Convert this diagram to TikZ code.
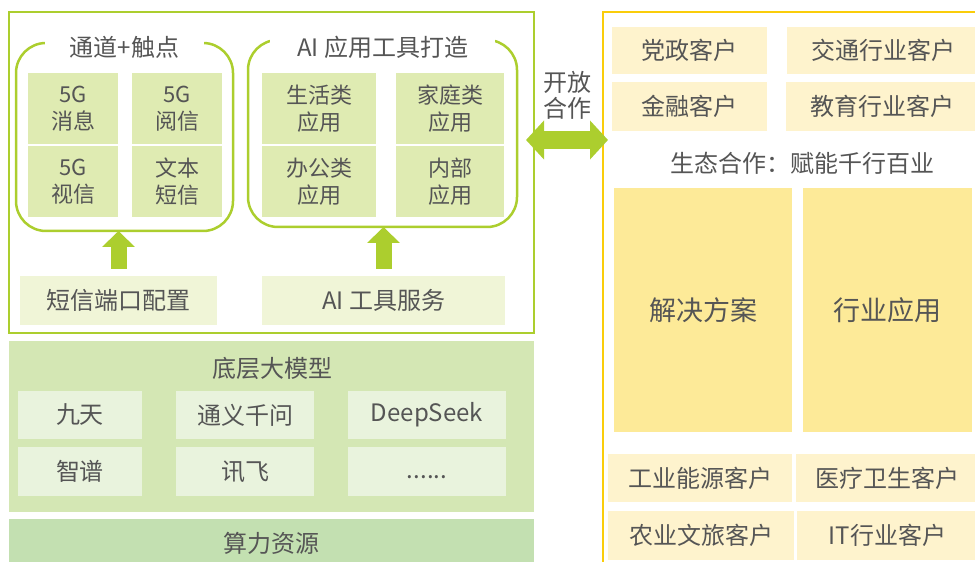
\documentclass[tikz,border=0pt]{standalone}
\usepackage{fontspec}
\setmainfont{Noto Sans CJK SC}
\usetikzlibrary{arrows.meta, calc}
\definecolor{lime}{RGB}{172,206,46}
\definecolor{leaf}{RGB}{223,235,178}
\definecolor{mist}{RGB}{240,245,215}
\definecolor{moss}{RGB}{212,231,180}
\definecolor{dew}{RGB}{233,243,221}
\definecolor{sage}{RGB}{195,224,177}
\definecolor{gold}{RGB}{250,205,10}
\definecolor{cream}{RGB}{254,243,205}
\definecolor{butter}{RGB}{253,234,152}
\definecolor{ink}{RGB}{85,85,85}

\begin{document}
\begin{tikzpicture}[
    x=1pt, y=1pt,
    every node/.style={inner sep=0pt, outer sep=0pt, text=ink, font=\fontsize{24}{28}\selectfont},
    sz/.style 2 args={minimum width=#1pt, minimum height=#2pt},
    frame/.style={draw=lime, line width=2pt},
    bracket/.style={draw=lime, line width=2.5pt, rounded corners=30pt},
    brtitle/.style={fill=white, minimum height=24pt},
    cell/.style={fill=leaf, align=center, font=\fontsize{22}{27}\selectfont},
    service/.style={fill=mist},
    model/.style={fill=dew},
    client/.style={fill=cream},
    bigcell/.style={fill=butter, font=\fontsize{27}{30}\selectfont},
    uparrow/.style={draw=lime, line width=16pt, -{Triangle[width=32pt, length=16pt]}},
    biarrow/.style={draw=lime, line width=18pt, {Triangle[width=38pt, length=18pt]}-{Triangle[width=38pt, length=18pt]}}
]
\useasboundingbox (0,0) rectangle (975,562);
\clip (0,0) rectangle (975,562);

% Open platform
\node[frame, sz={525}{321}] (platform) at (271.5,389.5) {};
\node[bracket, sz={217}{188}] (chan) at (124.5,425) {};
\node[brtitle, minimum width=159pt] (chant) at (124.5,515) {通道+触点};
\node[bracket, sz={269}{187}] (tools) at (382.5,428.5) {};
\node[brtitle, minimum width=225pt] (toolst) at (382.5,515) {AI 应用工具打造};

\node[cell, sz={90}{71}] (c1) at (73,453.5) {5G\\消息};
\node[cell, sz={90}{71}] (c2) at (177,453.5) {5G\\阅信};
\node[cell, sz={90}{71}] (c3) at (73,380.5) {5G\\视信};
\node[cell, sz={90}{71}] (c4) at (177,380.5) {文本\\短信};

\node[cell, sz={114}{71}] (t1) at (319,453.5) {生活类\\应用};
\node[cell, sz={108}{71}] (t2) at (450,453.5) {家庭类\\应用};
\node[cell, sz={114}{71}] (t3) at (319,380.5) {办公类\\应用};
\node[cell, sz={108}{71}] (t4) at (450,380.5) {内部\\应用};

\node[service, sz={197}{49}] (port) at (118.5,261.5) {短信端口配置};
\node[service, sz={243}{49}] (aisvc) at (383.5,261.5) {AI 工具服务};

\draw[uparrow] ([yshift=7pt]port.north) -- (port.north |- chan.south);
\draw[uparrow] ([yshift=7pt]aisvc.north) -- (aisvc.north |- tools.south);

% Base models
\node[fill=moss, sz={525}{171}] (base) at (271.5,135.5) {};
\node (baset) at (272,194) {底层大模型};
\node[model, sz={124}{48}] (m1) at (80,147) {九天};
\node[model, sz={138}{48}] (m2) at (245,147) {通义千问};
\node[model, sz={158}{48}] (m3) at (427,147) {DeepSeek};
\node[model, sz={124}{49}] (m4) at (80,90.5) {智谱};
\node[model, sz={138}{49}] (m5) at (245,90.5) {讯飞};
\node[model, sz={158}{49}] (m6) at (427,90.5) {};
\node (m6t) at ([yshift=-6pt]m6.center) {......};

% Compute
\node[fill=sage, sz={525}{48}] (compute) at (271.5,19) {算力资源};

% Ecosystem
\node[draw=gold, line width=2.5pt, sz={392}{565}] (ecosys) at (799,267.5) {};
\node[client, sz={155}{47}] (k1) at (689.5,511.5) {党政客户};
\node[client, sz={192}{47}] (k2) at (883,511.5) {交通行业客户};
\node[client, sz={155}{49}] (k3) at (689.5,455.5) {金融客户};
\node[client, sz={193}{49}] (k4) at (882.5,455.5) {教育行业客户};
\node (ecot) at (802,399) {生态合作：赋能千行百业};
\node[bigcell, sz={178}{244}] (sol) at (703,252) {解决方案};
\node[bigcell, sz={169}{244}] (app) at (887.5,252) {行业应用};
\node[client, sz={184}{48}] (k5) at (700,84) {工业能源客户};
\node[client, sz={183}{48}] (k6) at (887.5,84) {医疗卫生客户};
\node[client, sz={186}{49}] (k7) at (701,26.5) {农业文旅客户};
\node[client, sz={181}{49}] (k8) at (887.5,26.5) {IT行业客户};

% Link
\node[align=center, font=\fontsize{24}{26}\selectfont] (open) at (567,467) {开放\\合作};
\draw[biarrow] ($(platform.east)+(-8,32.5)$) -- ($(ecosys.west |- platform.east)+(5,32.5)$);

\end{tikzpicture}
\end{document}
